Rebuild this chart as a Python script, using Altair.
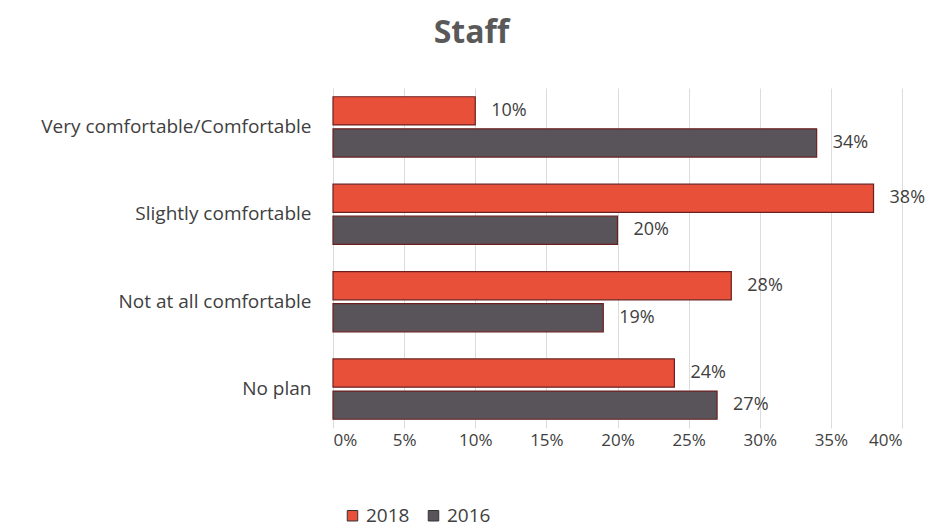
import altair as alt
import pandas as pd

categories = ["Very comfortable/Comfortable", "Slightly comfortable", "Not at all comfortable", "No plan"]
years = ["2018", "2016"]
values_2018 = [10, 38, 28, 24]
values_2016 = [34, 20, 19, 27]

rows = []
for c, v in zip(categories, values_2018):
    rows.append({"category": c, "year": "2018", "value": v / 100, "label": f"{v}%"})
for c, v in zip(categories, values_2016):
    rows.append({"category": c, "year": "2016", "value": v / 100, "label": f"{v}%"})
df = pd.DataFrame(rows)

FONT = "Open Sans"

y_enc = alt.Y("category:N", sort=categories, title=None,
              scale=alt.Scale(paddingInner=0.31, paddingOuter=0.1),
              axis=alt.Axis(labelFontSize=19, labelColor="#404040", labelFont=FONT,
                            ticks=False, domain=False, labelPadding=22, labelLimit=330))
x_scale = alt.Scale(domain=[0, 0.4], nice=False)
yoff = alt.YOffset("year:N", sort=years, scale=alt.Scale(paddingInner=0.12))

bars = alt.Chart(df).mark_bar(stroke="#6b2020", strokeWidth=1.2).encode(
    x=alt.X("value:Q", scale=x_scale, title=None,
            axis=alt.Axis(format=".0%", values=[0, .05, .1, .15, .2, .25, .3, .35, .4],
                          labelFontSize=17, labelColor="#404040", labelFont=FONT,
                          ticks=False, domain=False, gridColor="#dcdcdc", labelPadding=4)),
    y=y_enc,
    yOffset=yoff,
    color=alt.Color("year:N", sort=years,
                    scale=alt.Scale(domain=years, range=["#e8503a", "#58545a"]),
                    legend=alt.Legend(title=None, orient="none", legendX=10, legendY=418,
                                      direction="horizontal", symbolType="square",
                                      symbolSize=110, labelFontSize=19, labelFont=FONT,
                                      labelColor="#404040", columnPadding=14, labelOffset=4,
                                      symbolStrokeColor="#333", symbolStrokeWidth=1)),
)

labels = alt.Chart(df).mark_text(align="left", baseline="middle", dx=16, fontSize=18,
                                 font=FONT, color="#404040").encode(
    x=alt.X("value:Q", scale=x_scale),
    y=alt.Y("category:N", sort=categories),
    yOffset=yoff,
    text="label:N",
)

chart = (bars + labels).properties(
    width=569, height=340,
    title=alt.TitleParams("Staff", fontSize=32, font=FONT, fontWeight="bold",
                          color="#595959", anchor="middle", offset=38, dx=-146),
    padding={"left": 333, "top": 88, "right": 29, "bottom": 99},
    autosize=alt.AutoSizeParams(type="none"),
).configure_view(stroke=None).configure_axisY(grid=False)

chart.save("out.html", embed_options={"renderer": "svg", "actions": False})
